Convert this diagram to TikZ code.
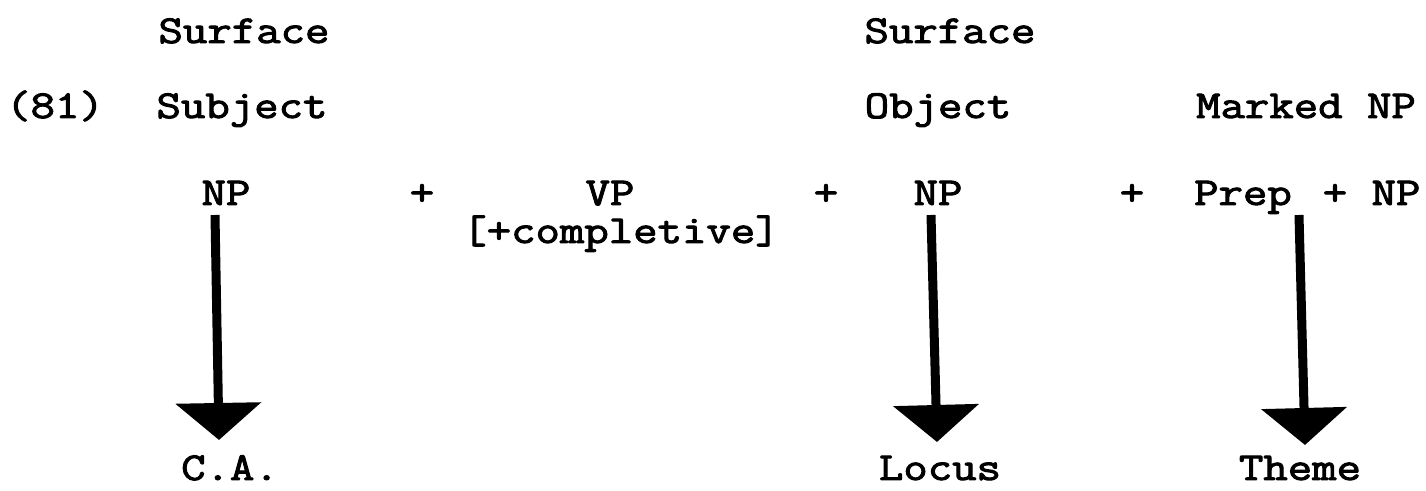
\documentclass[tikz,border=0pt]{standalone}
\usepackage{fontspec}
\newfontfamily\typew[FakeStretch=1.2,FakeBold=2.5]{Latin Modern Mono}
\usetikzlibrary{arrows.meta}
\begin{document}
\begin{tikzpicture}[x=0.5pt,y=-0.5pt,
  every node/.style={inner sep=0pt,anchor=base,
    font=\typew\fontsize{19.75}{24}\selectfont},
  bigarrow/.style={line width=4.5pt,-{Triangle[width=42pt,length=18.5pt]}}]
\useasboundingbox (0,0) rectangle (1426,491);
% headings
\node (surfA) at (244,43) {Surface};
\node (surfB) at (950,43) {Surface};
%
\node (num) at (55,118) {(81)};
\node (subj) at (242,118) {Subject};
\node (obj) at (938,118) {Object};
\node (mark) at (1306,118) {Marked NP};
%
% the formula
\node (npA) at (226,205) {NP};
\node (plusA) at (422,205) {+};
\node (vp) at (610,205) {VP};
\node (compl) at (621,243) {[+completive]};
\node (plusB) at (826,205) {+};
\node (npB) at (938,205) {NP};
\node (plusC) at (1132,205) {+};
\node (prep) at (1243,205) {Prep};
\node (plusD) at (1335,205) {+};
\node (npC) at (1396,205) {NP};
%
% roles
\node (ca) at (230,480) {C.A.};
\node (locus) at (940,480) {Locus};
\node (theme) at (1300,480) {Theme};
%
\coordinate (caTop) at (215,215);
\coordinate (caEnd) at (219,440);
\coordinate (locTop) at (931,215);
\coordinate (locEnd) at (937,442);
\coordinate (thTop) at (1299,215);
\coordinate (thEnd) at (1305,445);
\draw[bigarrow] (caTop) -- (caEnd);
\draw[bigarrow] (locTop) -- (locEnd);
\draw[bigarrow] (thTop) -- (thEnd);
\end{tikzpicture}
\end{document}
